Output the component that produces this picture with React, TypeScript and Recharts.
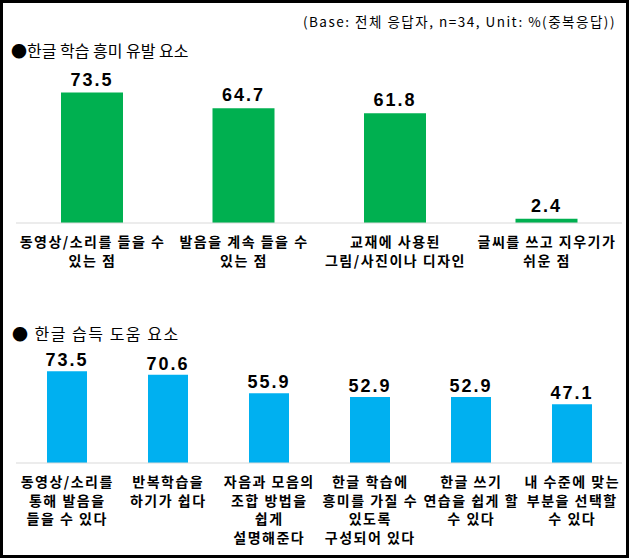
import React from 'react';
import { BarChart, Bar, XAxis, YAxis, LabelList } from 'recharts';

const noteText = '(Base: 전체 응답자, n=34, Unit: %(중복응답))';

const interestTitle = '●한글 학습 흥미 유발 요소';
const interestCategories = [
  '동영상/소리를 들을 수\n있는 점',
  '발음을 계속 들을 수\n있는 점',
  '교재에 사용된\n그림/사진이나 디자인',
  '글씨를 쓰고 지우기가\n쉬운 점',
];
const interestValues = [73.5, 64.7, 61.8, 2.4];

const helpTitle = '● 한글 습득 도움 요소';
const helpCategories = [
  '동영상/소리를\n통해 발음을\n들을 수 있다',
  '반복학습을\n하기가 쉽다',
  '자음과 모음의\n조합 방법을\n쉽게\n설명해준다',
  '한글 학습에\n흥미를 가질 수\n있도록\n구성되어 있다',
  '한글 쓰기\n연습을 쉽게 할\n수 있다',
  '내 수준에 맞는\n부분을 선택할\n수 있다',
];
const helpValues = [73.5, 70.6, 55.9, 52.9, 52.9, 47.1];

const KR_FONT = "'Noto Sans CJK KR', 'Noto Sans', sans-serif";
const NUM_FONT = "'Liberation Sans', Arial, sans-serif";

const CategoryTick = ({ x, y, payload }: any) => {
  const lines = String(payload.value).split('\n');
  return (
    <text
      x={x}
      y={y}
      textAnchor="middle"
      fontFamily={KR_FONT}
      fontSize={14}
      fontWeight={700}
      letterSpacing={1.5}
      fill="#000"
    >
      {lines.map((line, i) => (
        <tspan key={i} x={x + 0.75} dy={i === 0 ? 24 : 18.5}>
          {line}
        </tspan>
      ))}
    </text>
  );
};

const labelStyle = { fontFamily: NUM_FONT, fontSize: 18, fontWeight: 700, fill: '#000', letterSpacing: 2 };

export default function App() {
  const interestData = interestCategories.map((name, i) => ({ name, value: interestValues[i] }));
  const helpData = helpCategories.map((name, i) => ({ name, value: helpValues[i] }));

  return (
    <div style={{ position: 'absolute', left: 0, top: 0, width: 634, height: 560, background: '#fff' }}>
      <div
        style={{
          position: 'absolute', left: 0, top: 0, width: 629, height: 558,
          border: '3px solid #000', boxSizing: 'border-box',
        }}
      />
      <div
        style={{
          position: 'absolute', right: 18, top: 12, fontFamily: KR_FONT, fontSize: 13.5,
          letterSpacing: 1.5, lineHeight: '18px', color: '#000', whiteSpace: 'nowrap',
        }}
      >
        {noteText}
      </div>
      <div
        style={{
          position: 'absolute', left: 11, top: 40, fontFamily: KR_FONT, fontSize: 16,
          lineHeight: '20px', color: '#000', whiteSpace: 'nowrap',
        }}
      >
        {interestTitle}
      </div>
      <div
        style={{
          position: 'absolute', left: 12, top: 323, fontFamily: KR_FONT, fontSize: 16,
          letterSpacing: 1.5, lineHeight: '20px', color: '#000', whiteSpace: 'nowrap',
        }}
      >
        {helpTitle}
      </div>

      <div style={{ position: 'absolute', left: 0, top: 0 }}>
        <BarChart width={634} height={278} data={interestData} margin={{ top: 81, right: 12, left: 16, bottom: 0 }}>
          <XAxis
            dataKey="name"
            interval={0}
            height={55}
            tickLine={false}
            tickSize={0}
            tickMargin={0}
            axisLine={{ stroke: '#d9d9d9' }}
            tick={<CategoryTick />}
          />
          <YAxis hide domain={[0, 80]} />
          <Bar dataKey="value" fill="#00b050" barSize={62} isAnimationActive={false}>
            <LabelList dataKey="value" position="top" offset={7} style={labelStyle} />
          </Bar>
        </BarChart>
      </div>

      <div style={{ position: 'absolute', left: 0, top: 290 }}>
        <BarChart width={634} height={268} data={helpData} margin={{ top: 73, right: 12, left: 16, bottom: 0 }}>
          <XAxis
            dataKey="name"
            interval={0}
            height={95}
            tickLine={false}
            tickSize={0}
            tickMargin={0}
            axisLine={{ stroke: '#d9d9d9' }}
            tick={<CategoryTick />}
          />
          <YAxis hide domain={[0, 80]} />
          <Bar dataKey="value" fill="#00b0f0" barSize={40} isAnimationActive={false}>
            <LabelList dataKey="value" position="top" offset={5} style={labelStyle} />
          </Bar>
        </BarChart>
      </div>
    </div>
  );
}
